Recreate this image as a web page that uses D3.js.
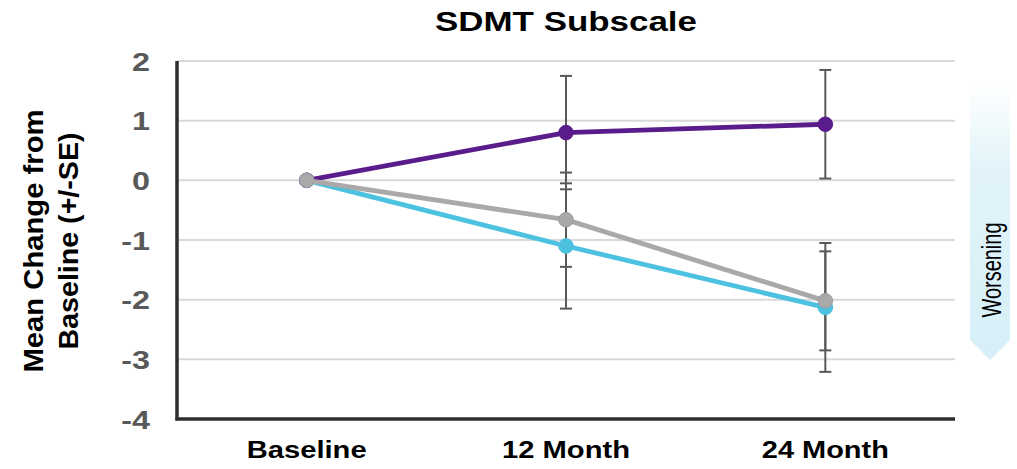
<!DOCTYPE html>
<html>
<head>
<meta charset="utf-8">
<script src="https://cdn.jsdelivr.net/npm/d3@7"></script>
<style>
  html, body { margin: 0; padding: 0; background: #fff; }
  svg { display: block; font-family: "Liberation Sans", Arial, sans-serif; }
</style>
</head>
<body>
<svg id="chart" width="1017" height="469"></svg>
<script>
const categories = ["Baseline", "12 Month", "24 Month"];
const yTicks = [2, 1, 0, -1, -2, -3, -4];
const purpleMean = [0, 0.80, 0.94];
const purpleSE   = [0, 0.95, 0.91];
const grayMean   = [0, -0.66, -2.02];
const graySE     = [0, 0.79, 0.83];
const blueMean   = [0, -1.10, -2.13];
const blueSE     = [0, 1.05, 1.08];

const series = [
  { name: "blue",   mean: blueMean,   se: blueSE,   color: "#4cc1e0", stroke: "#4cc1e0" },
  { name: "purple", mean: purpleMean, se: purpleSE, color: "#5a1b8b", stroke: "#5a1b8b" },
  { name: "gray",   mean: grayMean,   se: graySE,   color: "#aaa8a8", stroke: "#9d9aa6" }
];

const svg = d3.select("#chart");
const L = 177, R = 955, T = 61, B = 419;

const x = d3.scaleBand().domain(categories).range([L, R]);
const cx = c => x(c) + x.bandwidth() / 2;
const y = d3.scaleLinear().domain([-4, 2]).range([B, T]);

// arrow (Worsening)
const defs = svg.append("defs");
const grad = defs.append("linearGradient").attr("id", "wg")
  .attr("x1", 0).attr("y1", 0).attr("x2", 0).attr("y2", 1);
grad.append("stop").attr("offset", "0").attr("stop-color", "#ffffff");
grad.append("stop").attr("offset", "0.3").attr("stop-color", "#e2f4f9");
grad.append("stop").attr("offset", "1").attr("stop-color", "#d6eff7");
svg.append("path")
  .attr("d", "M970,83 L1010,83 L1010,340 L990,360 L970,340 Z")
  .attr("fill", "url(#wg)");

// gridlines
svg.append("g").selectAll("line").data(yTicks.filter(t => t !== -4)).join("line")
  .attr("x1", L).attr("x2", R)
  .attr("y1", d => y(d)).attr("y2", d => y(d))
  .attr("stroke", "#d9d9d9").attr("stroke-width", 2);

// axes lines
svg.append("line").attr("x1", L).attr("x2", L).attr("y1", T).attr("y2", B + 1.5)
  .attr("stroke", "#2e2e2e").attr("stroke-width", 3.5);
svg.append("line").attr("x1", L - 1.5).attr("x2", R).attr("y1", B).attr("y2", B)
  .attr("stroke", "#2e2e2e").attr("stroke-width", 3.5);

function fit(sel, factor, target) {
  sel.each(function() {
    const w = this.getComputedTextLength();
    const t = target != null ? target : w * factor;
    d3.select(this).attr("textLength", t).attr("lengthAdjust", "spacingAndGlyphs");
  });
}

// y tick labels
const yt = svg.append("g").selectAll("text").data(yTicks).join("text")
  .attr("x", 150).attr("y", d => y(d) + 9.5)
  .attr("text-anchor", "end")
  .attr("font-size", 26.5).attr("font-weight", "bold").attr("fill", "#595959")
  .text(d => String(d));
fit(yt, 1.22);

// x labels
const xWidths = [120, 128, 127];
const xl = svg.append("g").selectAll("text").data(categories).join("text")
  .attr("x", d => cx(d)).attr("y", 458)
  .attr("text-anchor", "middle")
  .attr("font-size", 23.5).attr("font-weight", "bold").attr("fill", "#000")
  .text(d => d);
xl.each(function(d, i) { fit(d3.select(this), null, xWidths[i]); });

// title
const title = svg.append("text").attr("x", 566).attr("y", 30.5)
  .attr("text-anchor", "middle").attr("font-size", 27).attr("font-weight", "bold")
  .attr("fill", "#000").text("SDMT Subscale");
fit(title, null, 262);

// y title
const yt1 = svg.append("text").attr("transform", "translate(43,241) rotate(-90)")
  .attr("text-anchor", "middle").attr("font-size", 27.5).attr("font-weight", "bold")
  .attr("fill", "#000").text("Mean Change from");
fit(yt1, null, 263);
const yt2 = svg.append("text").attr("transform", "translate(78,241) rotate(-90)")
  .attr("text-anchor", "middle").attr("font-size", 27.5).attr("font-weight", "bold")
  .attr("fill", "#000").text("Baseline (+/-SE)");
fit(yt2, null, 217);

// Worsening
const wt = svg.append("text").attr("transform", "translate(1001,270) rotate(-90)")
  .attr("text-anchor", "middle").attr("font-size", 28.5).attr("fill", "#000")
  .text("Worsening");
fit(wt, null, 95);

// error bars
const eb = svg.append("g");
series.forEach(s => {
  categories.forEach((c, i) => {
    if (!s.se[i]) return;
    const x0 = cx(c), hi = y(s.mean[i] + s.se[i]), lo = y(s.mean[i] - s.se[i]);
    eb.append("line").attr("x1", x0).attr("x2", x0).attr("y1", hi).attr("y2", lo)
      .attr("stroke", "#595959").attr("stroke-width", 2);
    [hi, lo].forEach(yy => eb.append("line").attr("x1", x0 - 6).attr("x2", x0 + 6)
      .attr("y1", yy).attr("y2", yy).attr("stroke", "#595959").attr("stroke-width", 2));
  });
});

// lines and markers
const line = d3.line().x((d, i) => cx(categories[i])).y(d => y(d));
series.forEach(s => {
  const g = svg.append("g");
  g.append("path").datum(s.mean).attr("d", line)
    .attr("fill", "none").attr("stroke", s.color).attr("stroke-width", 4.8);
  g.selectAll("circle").data(s.mean).join("circle")
    .attr("cx", (d, i) => cx(categories[i])).attr("cy", d => y(d)).attr("r", 7.3)
    .attr("fill", s.color).attr("stroke", s.stroke).attr("stroke-width", 1);
});
</script>
</body>
</html>
